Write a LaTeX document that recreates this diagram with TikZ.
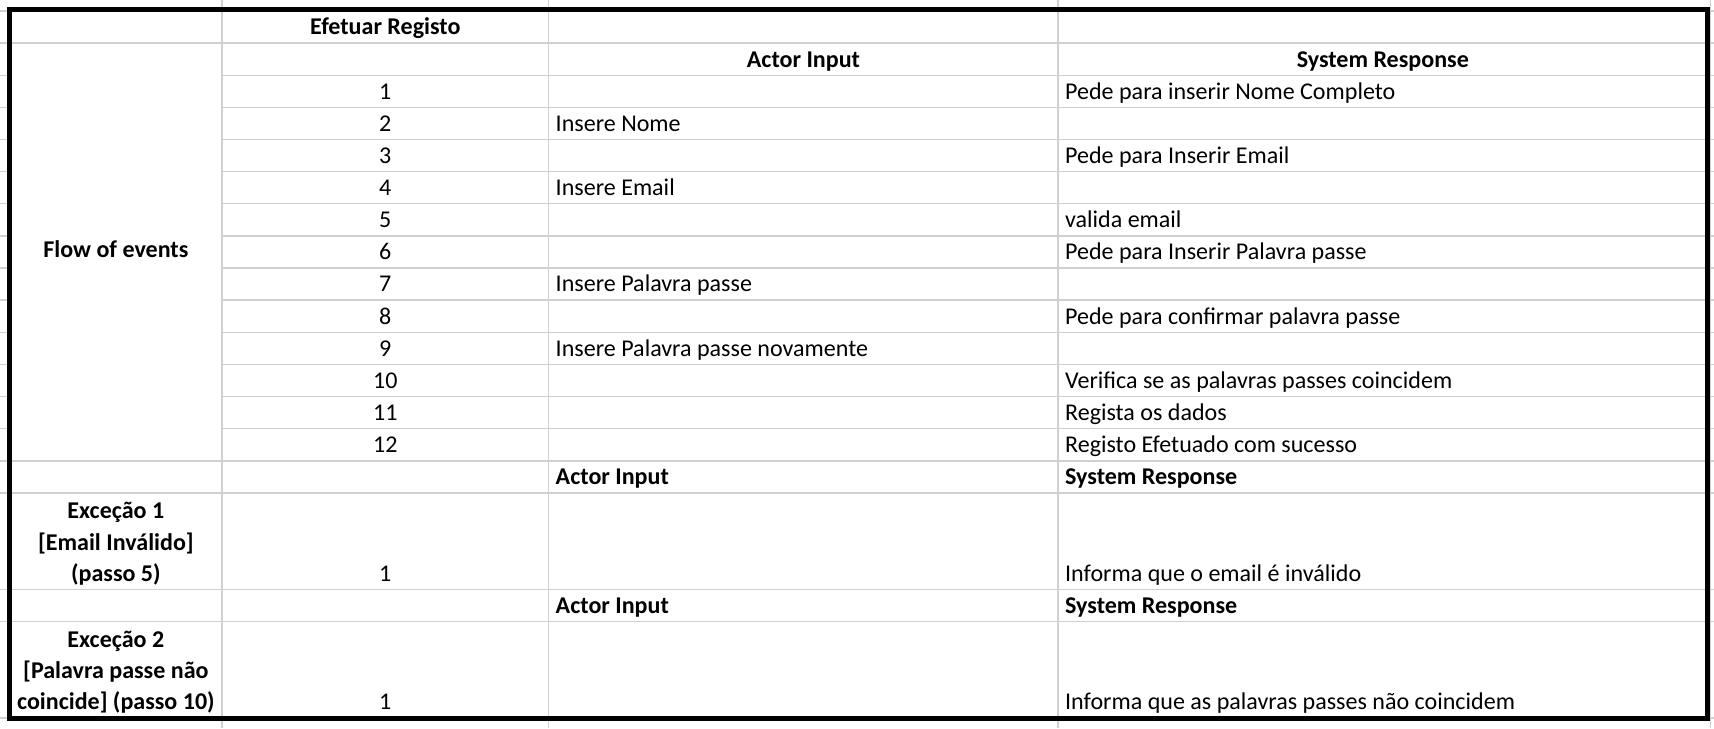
\documentclass[tikz,border=0pt]{standalone}
\usepackage{fontspec}
\setmainfont{Carlito}
\definecolor{gridgray}{RGB}{208,208,208}

\begin{document}
\begin{tikzpicture}[x=0.5pt, y=-0.5pt,
  txt/.style={inner sep=0pt, anchor=base, font=\fontsize{11}{14.25}\selectfont},
  bold/.style={txt, font=\fontsize{11}{14.25}\selectfont\bfseries},
  left/.style={anchor=base west},
  gridline/.style={draw=gridgray, line width=0.65pt},
  frame/.style={line width=2.3pt}]
  \useasboundingbox (0,0) rectangle (1568,666);

  % sheet grid
  \draw[gridline]
  (203,0) -- (203,666)
  (502,0) -- (502,666)
  (968,0) -- (968,666)
  (1565,0) -- (1565,666)
  (0,10) -- (1568,10)
  (0,39.4) -- (1568,39.4)
  (0,68.8) -- (9,68.8) (203,68.8) -- (1568,68.8)
  (0,98.2) -- (9,98.2) (203,98.2) -- (1568,98.2)
  (0,127.6) -- (9,127.6) (203,127.6) -- (1568,127.6)
  (0,157) -- (9,157) (203,157) -- (1568,157)
  (0,186.4) -- (9,186.4) (203,186.4) -- (1568,186.4)
  (0,215.8) -- (9,215.8) (203,215.8) -- (1568,215.8)
  (0,245.2) -- (9,245.2) (203,245.2) -- (1568,245.2)
  (0,274.6) -- (9,274.6) (203,274.6) -- (1568,274.6)
  (0,304) -- (9,304) (203,304) -- (1568,304)
  (0,333.4) -- (9,333.4) (203,333.4) -- (1568,333.4)
  (0,362.8) -- (9,362.8) (203,362.8) -- (1568,362.8)
  (0,392.2) -- (9,392.2) (203,392.2) -- (1568,392.2)
  (0,421.6) -- (1568,421.6)
  (0,451) -- (1568,451)
  (0,539.2) -- (1568,539.2)
  (0,568.6) -- (1568,568.6)
  (0,656.8) -- (1568,656.8)
  ;

  % outer frame
  \draw[frame] (9,9) rectangle (1562,657);

  % header
  \path
  (352.5,31.9) node[bold] (title) {Efetuar Registo}
  (735,61.3) node[bold] (actorhd) {Actor Input}
  (1265,61.3) node[bold] (syshd) {System Response}
  (106,235.5) node[bold] (flow) {Flow of events}
  ;

  % flow of events
  \path
  (352.5,90.7) node[txt] (n1) {1}
  (974,90.7) node[txt, left] (s1) {Pede para inserir Nome Completo}
  (352.5,120.1) node[txt] (n2) {2}
  (508,120.1) node[txt, left] (a2) {Insere Nome}
  (352.5,149.5) node[txt] (n3) {3}
  (974,149.5) node[txt, left] (s3) {Pede para Inserir Email}
  (352.5,178.9) node[txt] (n4) {4}
  (508,178.9) node[txt, left] (a4) {Insere Email}
  (352.5,208.3) node[txt] (n5) {5}
  (974,208.3) node[txt, left] (s5) {valida email}
  (352.5,237.7) node[txt] (n6) {6}
  (974,237.7) node[txt, left] (s6) {Pede para Inserir Palavra passe}
  (352.5,267.1) node[txt] (n7) {7}
  (508,267.1) node[txt, left] (a7) {Insere Palavra passe}
  (352.5,296.5) node[txt] (n8) {8}
  (974,296.5) node[txt, left] (s8) {Pede para confirmar palavra passe}
  (352.5,325.9) node[txt] (n9) {9}
  (508,325.9) node[txt, left] (a9) {Insere Palavra passe novamente}
  (352.5,355.3) node[txt] (n10) {10}
  (974,355.3) node[txt, left] (s10) {Verifica se as palavras passes coincidem}
  (352.5,384.7) node[txt] (n11) {11}
  (974,384.7) node[txt, left] (s11) {Regista os dados}
  (352.5,414.1) node[txt] (n12) {12}
  (974,414.1) node[txt, left] (s12) {Registo Efetuado com sucesso}
  ;

  % exceptions
  \path
  (508,443.5) node[bold, left] (actorx1) {Actor Input}
  (974,443.5) node[bold, left] (sysx1) {System Response}
  (106,531.7) node[bold, align=center] (exc1) {Exceção 1\\{}[Email Inválido]\\(passo 5)}
  (352.5,531.7) node[txt] (x1n1) {1}
  (974,531.7) node[txt, left] (x1s1) {Informa que o email é inválido}
  (508,561.1) node[bold, left] (actorx2) {Actor Input}
  (974,561.1) node[bold, left] (sysx2) {System Response}
  (106,649.3) node[bold, align=center] (exc2) {Exceção 2\\{}[Palavra passe não\\coincide] (passo 10)}
  (352.5,649.3) node[txt] (x2n1) {1}
  (974,649.3) node[txt, left] (x2s1) {Informa que as palavras passes não coincidem}
  ;
\end{tikzpicture}
\end{document}
